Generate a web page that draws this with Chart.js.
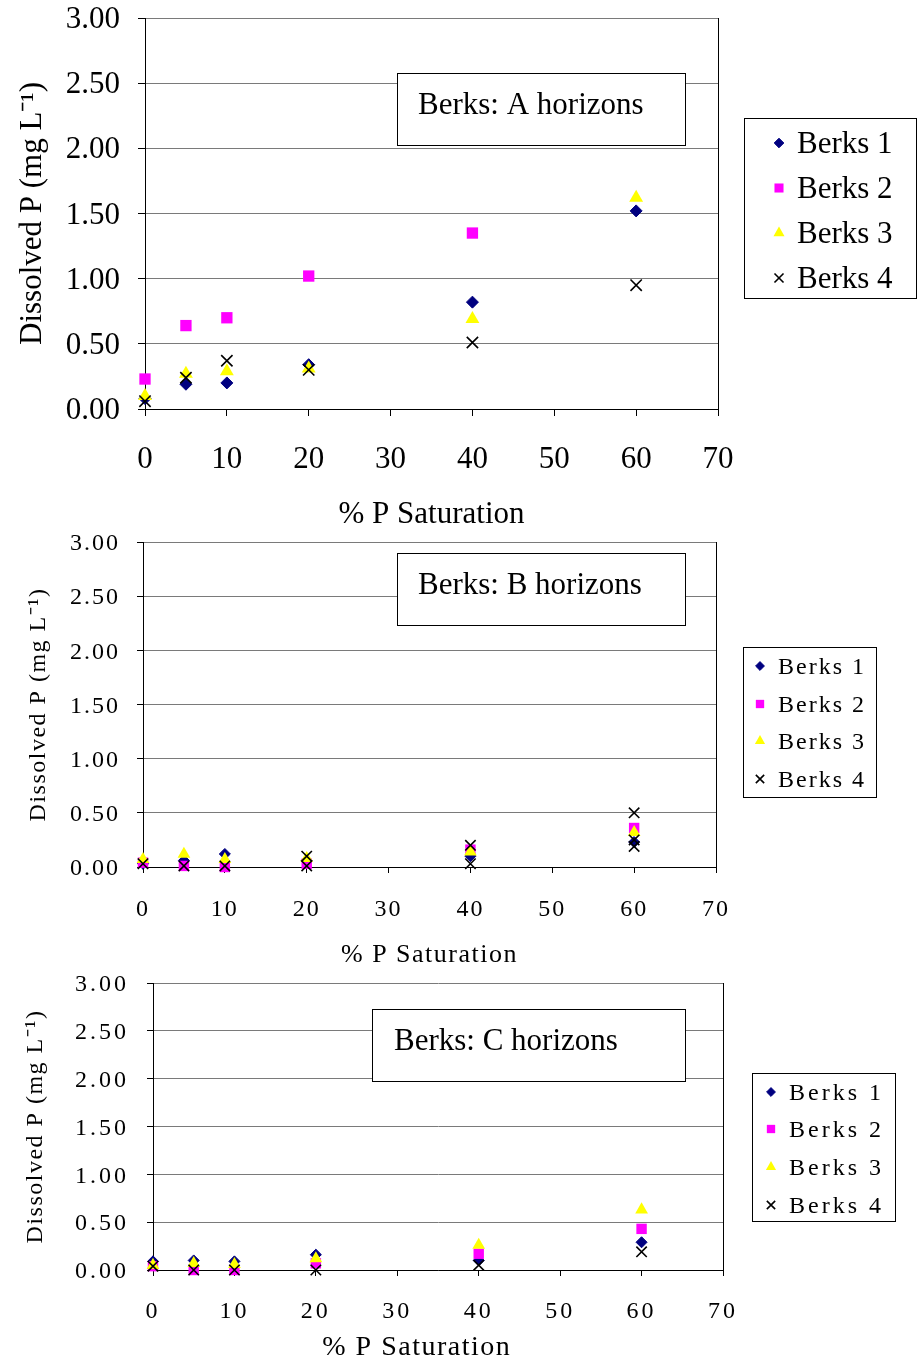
<!DOCTYPE html>
<html>
<head>
<meta charset="utf-8">
<script src="https://cdn.jsdelivr.net/npm/chart.js@4.4.1/dist/chart.umd.min.js"></script>
<style>
  body { margin: 0; background: #fff; width: 917px; height: 1362px; position: relative; overflow: hidden; }
  canvas { position: absolute; left: 0; }
</style>
</head>
<body>
<canvas id="chartA" width="917" height="533" style="top:0px"></canvas>
<canvas id="chartB" width="917" height="441" style="top:530px"></canvas>
<canvas id="chartC" width="917" height="394" style="top:970px"></canvas>
<script>
// % P saturation levels (x) and series names
const saturation = [0, 5, 10, 20, 40, 60];
const seriesNames = ['Berks 1', 'Berks 2', 'Berks 3', 'Berks 4'];
const xTickValues = [0, 10, 20, 30, 40, 50, 60, 70];
const yTickValues = [0, 0.5, 1, 1.5, 2, 2.5, 3];

// A horizons, dissolved P (mg/L)
const aBerks1 = [0.08, 0.19, 0.20, 0.34, 0.82, 1.52];
const aBerks2 = [0.23, 0.64, 0.70, 1.02, 1.35, null];
const aBerks3 = [0.10, 0.27, 0.29, 0.31, 0.69, 1.62];
const aBerks4 = [0.06, 0.24, 0.37, 0.30, 0.51, 0.95];

// B horizons
const bBerks1 = [0.03, 0.06, 0.12, 0.06, 0.10, 0.23];
const bBerks2 = [0.04, 0.01, 0.00, 0.03, 0.16, 0.36];
const bBerks3 = [0.07, 0.12, 0.07, 0.08, 0.14, 0.32];
const bBerks4 = [0.03, 0.01, 0.01, 0.10, 0.20, 0.50];
// extra Berks 4 points in B horizons
const bExtraSat = [20, 40, 60, 60];
const bExtraBerks4 = [0.01, 0.03, 0.25, 0.19];

// C horizons
const cBerks1 = [0.09, 0.10, 0.09, 0.16, 0.10, 0.29];
const cBerks2 = [0.04, 0.00, 0.00, 0.07, 0.17, 0.43];
const cBerks3 = [0.05, 0.07, 0.06, 0.12, 0.26, 0.63];
const cBerks4 = [0.04, 0.00, 0.00, 0.00, 0.05, 0.19];

Chart.defaults.font.family = "'Liberation Serif', 'Times New Roman', serif";
Chart.defaults.color = '#000';

const styles = [
  { pointStyle: 'rectRot', color: '#000080', border: '#000080', radius: 6, bw: 1 },
  { pointStyle: 'rect', color: '#ff00ff', border: '#ff00ff', radius: 8, bw: 0 },
  { pointStyle: 'triangle', color: '#ffff00', border: '#ffff00', radius: 8, bw: 0 },
  { pointStyle: 'crossRot', color: '#000', border: '#000', radius: 8, bw: 1.6 }
];

function drawMarker(ctx, st, x, y, scale) {
  ctx.save();
  ctx.fillStyle = st.color;
  ctx.strokeStyle = st.border;
  ctx.lineWidth = st.bw;
  Chart.helpers.drawPoint(ctx, { pointStyle: st.pointStyle, radius: st.radius * scale, rotation: 0, borderWidth: st.bw }, x, y);
  ctx.restore();
}

function makeChart(id, series, o) {
  const datasets = series.map((ys, i) => {
    const pts = [];
    saturation.forEach((x, j) => { if (ys[j] !== null) pts.push({ x: x, y: ys[j] }); });
    if (o.extra && o.extra.index === i) {
      o.extra.xs.forEach((x, j) => pts.push({ x: x, y: o.extra.ys[j] }));
    }
    const st = styles[i];
    return {
      label: seriesNames[i],
      data: pts,
      order: 4 - i,
      clip: false,
      pointStyle: st.pointStyle,
      pointRadius: st.radius * o.markScale,
      pointHoverRadius: st.radius * o.markScale,
      pointBackgroundColor: st.color,
      pointBorderColor: st.border,
      pointBorderWidth: st.bw
    };
  });

  const overlay = {
    id: 'overlay',
    beforeUpdate(c) { c.ctx.letterSpacing = o.tickSp + 'px'; },
    beforeDraw(c) { c.ctx.letterSpacing = o.titleSp + 'px'; },
    beforeDatasetsDraw(c) { c.ctx.letterSpacing = o.tickSp + 'px'; },
    afterDraw(c) {
      const ctx = c.ctx;
      ctx.save();
      // label box
      const b = o.box;
      ctx.letterSpacing = '0px';
      ctx.fillStyle = '#fff';
      ctx.fillRect(b.x, b.y, b.w, b.h);
      ctx.strokeStyle = '#000';
      ctx.lineWidth = 1;
      ctx.strokeRect(b.x + 0.5, b.y + 0.5, b.w, b.h);
      ctx.fillStyle = '#000';
      ctx.font = '31px ' + Chart.defaults.font.family;
      ctx.textAlign = 'left';
      ctx.textBaseline = 'middle';
      ctx.fillText(b.text, b.textX, b.textY + 2);
      // legend
      const L = o.legend;
      ctx.fillStyle = '#fff';
      ctx.fillRect(L.x, L.y, L.w, L.h);
      ctx.strokeRect(L.x + 0.5, L.y + 0.5, L.w, L.h);
      ctx.letterSpacing = o.tickSp + 'px';
      ctx.font = o.legendFont + 'px ' + Chart.defaults.font.family;
      c.data.datasets.forEach((ds, i) => {
        drawMarker(ctx, styles[i], L.markerX, L.rows[i], o.markScale * 0.8);
        ctx.fillStyle = '#000';
        ctx.fillText(ds.label, L.textX, L.rows[i] + 2);
      });
      ctx.restore();
    }
  };

  const a = o.area;
  return new Chart(document.getElementById(id), {
    type: 'scatter',
    data: { datasets: datasets },
    options: {
      responsive: false,
      animation: false,
      devicePixelRatio: 1,
      layout: { padding: { top: a.top, right: 917 - a.right, left: 0, bottom: 0 } },
      plugins: { legend: { display: false }, tooltip: { enabled: false } },
      scales: {
        x: {
          type: 'linear',
          min: 0,
          max: 70,
          afterBuildTicks: s => { s.ticks = xTickValues.map(v => ({ value: v })); },
          afterFit: s => { s.height = o.H - a.bottom; s.paddingLeft = 0; s.paddingRight = 0; },
          grid: {
            color: c => (c.tick && c.tick.value === 70) ? '#000' : 'rgba(0,0,0,0)',
            tickColor: '#000',
            tickLength: o.tickLen
          },
          border: { color: '#000', width: 1 },
          ticks: { font: { size: o.tickFont }, color: '#000', padding: o.xTickPad, maxRotation: 0, autoSkip: false, z: 1 },
          title: {
            display: true,
            text: o.xTitle,
            color: '#000',
            font: { size: o.xTitleFont },
            padding: { top: 0, bottom: o.xTitlePad }
          }
        },
        y: {
          min: 0,
          max: 3,
          afterBuildTicks: s => { s.ticks = yTickValues.map(v => ({ value: v })); },
          afterFit: s => { s.width = a.left; s.paddingTop = 0; s.paddingBottom = 0; },
          grid: { color: '#7a7a7a', tickColor: '#000', tickLength: o.tickLen },
          border: { color: '#000', width: 1 },
          ticks: { callback: v => v.toFixed(2), font: { size: o.tickFont }, color: '#000', padding: o.yTickPad, labelOffset: 2, z: 1 },
          title: {
            display: true,
            text: 'Dissolved P (mg L\u207B\u00B9)',
            color: '#000',
            font: { size: o.yTitleFont },
            padding: { top: o.yTitlePad, bottom: 0 }
          }
        }
      }
    },
    plugins: [overlay]
  });
}

makeChart('chartA', [aBerks1, aBerks2, aBerks3, aBerks4], {
  H: 533, area: { left: 145, right: 718, top: 18, bottom: 409 },
  tickFont: 31, tickSp: 0, titleSp: 0, tickLen: 7, yTickPad: 18, xTickPad: 25,
  xTitle: '% P Saturation', xTitleFont: 31, xTitlePad: 0,
  yTitleFont: 31, yTitlePad: 14,
  markScale: 1, legendFont: 31,
  legend: { x: 744, y: 118, w: 172, h: 180, rows: [143, 188, 233, 278], markerX: 779, textX: 797 },
  box: { x: 397, y: 73, w: 288, h: 72, textX: 418, textY: 104, text: 'Berks: A horizons' }
});

makeChart('chartB', [bBerks1, bBerks2, bBerks3, bBerks4], {
  H: 441, area: { left: 143, right: 716, top: 12, bottom: 337 },
  tickFont: 24, tickSp: 2, titleSp: 1.5, tickLen: 6, yTickPad: 17, xTickPad: 22,
  xTitle: '% P Saturation', xTitleFont: 26, xTitlePad: 0,
  yTitleFont: 24, yTitlePad: 24,
  markScale: 0.92, legendFont: 24,
  extra: { index: 3, xs: bExtraSat, ys: bExtraBerks4 },
  legend: { x: 743, y: 117, w: 133, h: 150, rows: [136, 174, 211, 249], markerX: 760, textX: 778 },
  box: { x: 397, y: 23, w: 288, h: 72, textX: 418, textY: 54, text: 'Berks: B horizons' }
});

makeChart('chartC', [cBerks1, cBerks2, cBerks3, cBerks4], {
  H: 394, area: { left: 153, right: 723, top: 13, bottom: 300 },
  tickFont: 24, tickSp: 3, titleSp: 1.5, tickLen: 6, yTickPad: 18, xTickPad: 21,
  xTitle: '% P Saturation     ', xTitleFont: 28, xTitlePad: 0,
  yTitleFont: 24, yTitlePad: 21,
  markScale: 0.92, legendFont: 24,
  legend: { x: 752, y: 103, w: 143, h: 148, rows: [122, 159, 197, 235], markerX: 771, textX: 789 },
  box: { x: 372, y: 39, w: 313, h: 72, textX: 394, textY: 70, text: 'Berks: C horizons' }
});
</script>
</body>
</html>
